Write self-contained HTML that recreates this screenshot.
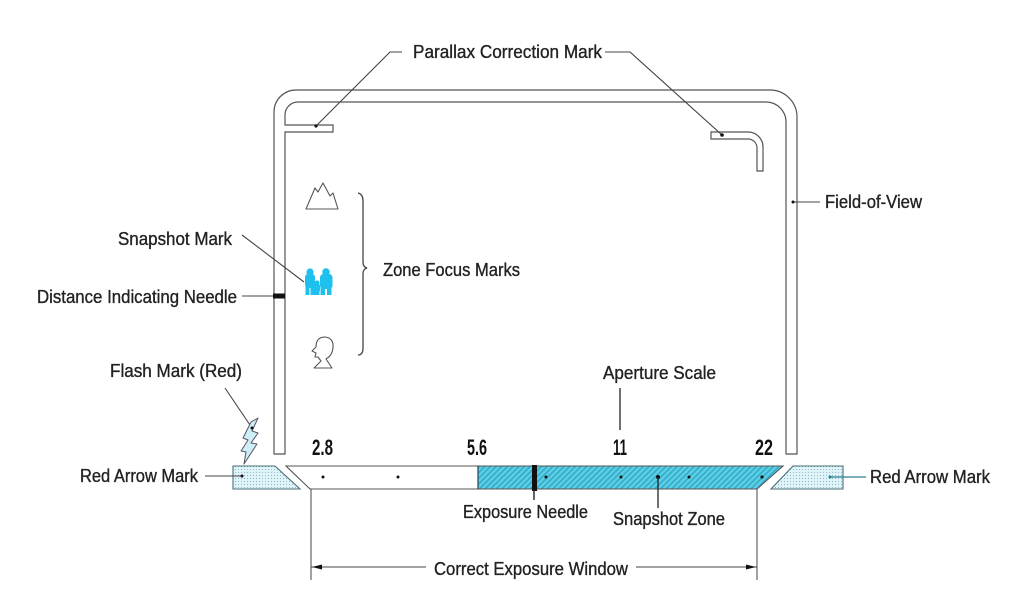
<!DOCTYPE html>
<html><head><meta charset="utf-8"><style>
html,body{margin:0;padding:0;background:#fff;}
svg{display:block;}
text{font-family:"Liberation Sans",sans-serif;fill:#222;}
.l{font-size:18px;stroke:#222;stroke-width:0.35px;}
.n{font-size:22px;font-weight:bold;fill:#111;}
</style></head><body>
<svg width="1024" height="608" viewBox="0 0 1024 608" xmlns="http://www.w3.org/2000/svg">
<defs>
<pattern id="hatch" width="4" height="4" patternUnits="userSpaceOnUse" patternTransform="rotate(45)">
<rect width="4" height="4" fill="#5ccde3"/>
<rect x="0" y="0" width="1.3" height="4" fill="#2aa6c6"/>
</pattern>
<pattern id="dots" width="3" height="3" patternUnits="userSpaceOnUse">
<rect width="3" height="3" fill="#dff4f9"/>
<rect x="1" y="1" width="1" height="1" fill="#8fb8c4"/>
</pattern>
</defs>
<rect width="1024" height="608" fill="#fff"/>

<!-- Frame -->
<path d="M274,454 L274,112 A22,22 0 0 1 296,90 L770,90 A27,27 0 0 1 797,117 L797,454 L786,454 L786,122 A20,20 0 0 0 766,102 L298,102 A13,13 0 0 0 285,115 L285,125 L333,125 L333,132 L285,132 L285,454 Z" fill="none" stroke="#555" stroke-width="1.2"/>
<!-- right parallax mark -->
<path d="M711,132 L748,132 A15,15 0 0 1 763,147 L763,171 L757,171 L757,148 A9,9 0 0 0 748,139 L711,139 Z" fill="none" stroke="#555" stroke-width="1.2"/>

<!-- Parallax label -->
<text class="l" x="413" y="58" textLength="189" lengthAdjust="spacingAndGlyphs">Parallax Correction Mark</text>
<polyline points="402,52 390,52 316,126" fill="none" stroke="#444" stroke-width="1.1"/>
<polyline points="605,52 630,52 722,135" fill="none" stroke="#444" stroke-width="1.1"/>
<circle cx="316" cy="126" r="1.6" fill="#111"/>
<circle cx="722" cy="135" r="1.8" fill="#111"/>

<!-- Field of view -->
<line x1="793" y1="202" x2="820" y2="202" stroke="#444" stroke-width="1.1"/>
<circle cx="793" cy="202" r="1.5" fill="#111"/>
<text class="l" x="825" y="208" textLength="97" lengthAdjust="spacingAndGlyphs">Field-of-View</text>

<!-- Mountain -->
<path d="M306,209 L315,188 L318,192 L323,183 L330,196 L333,193 L338,209 Z" fill="none" stroke="#555" stroke-width="1.1" stroke-linejoin="round"/>

<!-- Snapshot icon (cyan) -->
<g fill="#1ec0ee">
<circle cx="310" cy="272" r="3.6"/>
<rect x="305" y="274" width="10" height="14" rx="3"/>
<rect x="305.5" y="285" width="4" height="10"/>
<rect x="310.5" y="285" width="4" height="10"/>
<circle cx="317" cy="283" r="2.6"/>
<rect x="314" y="284" width="6" height="8" rx="2"/>
<rect x="314.5" y="290" width="5" height="5"/>
<circle cx="326" cy="272" r="3.8"/>
<rect x="320" y="274" width="12.5" height="15" rx="3.5"/>
<rect x="320.5" y="286" width="4.5" height="9"/>
<rect x="327" y="286" width="4.5" height="9"/>
</g>

<!-- Head profile -->
<path d="M314,368 L321,361 L318,357 L315,357 L316,353 L312,351 L316,347 Q316,337 325,337 Q334,338 333,348 Q332,356 326,359 L332,368 Z" fill="none" stroke="#555" stroke-width="1.1" stroke-linejoin="round"/>

<!-- Brace -->
<path d="M358,193 Q363,194 363,201 L363,262 Q363,267 367,268 Q363,269 363,274 L363,348 Q363,355 358,355" fill="none" stroke="#444" stroke-width="1.3"/>
<text class="l" x="383" y="276" textLength="137" lengthAdjust="spacingAndGlyphs">Zone Focus Marks</text>

<!-- Snapshot mark label -->
<text class="l" x="118" y="245" textLength="114" lengthAdjust="spacingAndGlyphs">Snapshot Mark</text>
<line x1="242" y1="235" x2="304" y2="282" stroke="#444" stroke-width="1.1"/>

<!-- Distance needle -->
<text class="l" x="37" y="303" textLength="200" lengthAdjust="spacingAndGlyphs">Distance Indicating Needle</text>
<line x1="242" y1="296" x2="273" y2="296" stroke="#444" stroke-width="1.1"/>
<rect x="273" y="293.5" width="12" height="5" fill="#111"/>

<!-- Flash -->
<text class="l" x="110" y="377" textLength="132" lengthAdjust="spacingAndGlyphs">Flash Mark (Red)</text>
<line x1="225" y1="388" x2="252" y2="428" stroke="#444" stroke-width="1.1"/>
<path d="M251,422 L258,418 L252,431 L258,433 L251,443 L257,444 L244,464 L246,452 L241,451 L248,440 L243,438 Z" fill="#cfeef6" stroke="#556" stroke-width="1" stroke-linejoin="round"/>
<circle cx="252" cy="428" r="1.5" fill="#111"/>

<!-- Red arrow marks -->
<polygon points="233,466 275,466 300,489 233,489" fill="url(#dots)" stroke="#4a6f7a" stroke-width="1.1"/>
<polygon points="793,466 843,466 843,489 771,489" fill="url(#dots)" stroke="#4a6f7a" stroke-width="1.1"/>
<text class="l" x="80" y="482" textLength="118" lengthAdjust="spacingAndGlyphs">Red Arrow Mark</text>
<line x1="205" y1="476" x2="242" y2="476" stroke="#444" stroke-width="1.1"/>
<circle cx="242" cy="476" r="1.5" fill="#111"/>
<text class="l" x="870" y="483" textLength="120" lengthAdjust="spacingAndGlyphs">Red Arrow Mark</text>
<line x1="830" y1="477" x2="866" y2="477" stroke="#2a7f92" stroke-width="1.2"/>
<circle cx="830" cy="477" r="1.5" fill="#2a7f92"/>

<!-- Scale bar -->
<polygon points="478,466 783,466 757,489 478,489" fill="url(#hatch)"/>
<polygon points="286,466 783,466 757,489 310,489" fill="none" stroke="#555" stroke-width="1.1"/>
<line x1="478" y1="466" x2="478" y2="489" stroke="#245" stroke-width="1.2"/>
<g fill="#111">
<circle cx="323" cy="477" r="1.5"/>
<circle cx="398" cy="477" r="1.5"/>
<circle cx="546" cy="477" r="1.5"/>
<circle cx="621" cy="477" r="1.5"/>
<circle cx="658" cy="477" r="2"/>
<circle cx="689" cy="477" r="1.5"/>
<circle cx="762" cy="477" r="1.6"/>
</g>
<!-- needle -->
<rect x="532" y="465" width="5" height="26" fill="#111"/>
<line x1="534" y1="490" x2="534" y2="500" stroke="#222" stroke-width="1.4"/>
<line x1="658" y1="477" x2="658" y2="508" stroke="#222" stroke-width="1.3"/>

<!-- numbers -->
<text class="n" x="312" y="455" textLength="21" lengthAdjust="spacingAndGlyphs">2.8</text>
<text class="n" x="467" y="455" textLength="20" lengthAdjust="spacingAndGlyphs">5.6</text>
<text class="n" x="613" y="455" textLength="14" lengthAdjust="spacingAndGlyphs">11</text>
<text class="n" x="755" y="455" textLength="18" lengthAdjust="spacingAndGlyphs">22</text>

<!-- Aperture scale -->
<text class="l" x="603" y="379" textLength="113" lengthAdjust="spacingAndGlyphs">Aperture Scale</text>
<line x1="620" y1="388" x2="620" y2="430" stroke="#222" stroke-width="1.3"/>

<text class="l" x="463" y="518" textLength="125" lengthAdjust="spacingAndGlyphs">Exposure Needle</text>
<text class="l" x="613" y="525" textLength="112" lengthAdjust="spacingAndGlyphs">Snapshot Zone</text>

<!-- Correct exposure window -->
<line x1="311" y1="489" x2="311" y2="580" stroke="#555" stroke-width="1.1"/>
<line x1="757" y1="489" x2="757" y2="580" stroke="#555" stroke-width="1.1"/>
<line x1="311" y1="567" x2="426" y2="567" stroke="#444" stroke-width="1.1"/>
<line x1="636" y1="567" x2="757" y2="567" stroke="#444" stroke-width="1.1"/>
<polygon points="312,567 322,564.5 322,569.5" fill="#111"/>
<polygon points="756,567 746,564.5 746,569.5" fill="#111"/>
<text class="l" x="434" y="575" textLength="194" lengthAdjust="spacingAndGlyphs">Correct Exposure Window</text>
</svg>
</body></html>
